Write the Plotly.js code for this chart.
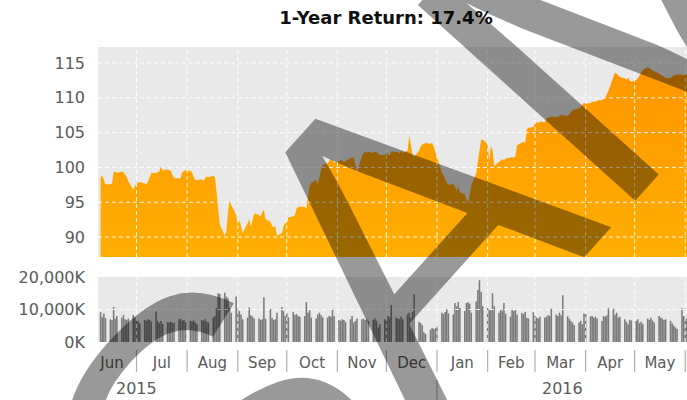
<!DOCTYPE html>
<html><head><meta charset="utf-8">
<script src="https://cdn.plot.ly/plotly-3.0.1.min.js"></script>
<style>html,body{margin:0;padding:0;background:#fff}#chart{width:687px;height:400px}</style>
</head><body><div id="chart"></div>
<script>
// Week starting dates (first week begins on Tuesday 9 Jun 2015)
const weekStarts = ['2015-06-09','2015-06-15','2015-06-22','2015-06-29','2015-07-06','2015-07-13','2015-07-20','2015-07-27',
 '2015-08-03','2015-08-10','2015-08-17','2015-08-24','2015-08-31','2015-09-07','2015-09-14','2015-09-21','2015-09-28',
 '2015-10-05','2015-10-12','2015-10-19','2015-10-26','2015-11-02','2015-11-09','2015-11-16','2015-11-23','2015-11-30',
 '2015-12-07','2015-12-14','2015-12-21','2015-12-28','2016-01-04','2016-01-11','2016-01-18','2016-01-25','2016-02-01',
 '2016-02-08','2016-02-15','2016-02-22','2016-02-29','2016-03-07','2016-03-14','2016-03-21','2016-03-28','2016-04-04',
 '2016-04-11','2016-04-18','2016-04-25','2016-05-02','2016-05-09','2016-05-16','2016-05-23','2016-05-30'];

// Daily closing price, one row per week
const priceByWeek = [
 [98.6,98.8,98.2,97.6],[97.6,97.7,99.3,99.4,99.2],[99.4,99.3,99.0,98.6,98.0],[96.8,97.3,97.8,97.8,97.9],
 [97.7,97.6,97.9,98.6,99.2],[99.2,99.3,99.4,100.2,99.6],[99.7,99.6,99.5,98.9,98.5],[98.4,98.5,99.3,99.5,99.6],
 [99.5,99.3,98.6,98.2,98.2],[98.3,98.1,98.5,98.7,98.6],[98.8,98.6,96.5,94.0,91.8],[90.2,90.8,93.6,95.3,94.6],
 [93.2,91.8,92.4,91.6,90.6],[92.0,92.6,91.5,92.4,93.4],[93.2,92.9,93.6,93.9,92.6],[92.2,91.6,91.4,91.6,90.2],
 [90.6,91.6,92.0,92.1,92.8],[93.0,93.2,94.1,94.3,94.4],[94.3,94.1,95.8,97.3,97.8],[98.2,97.6,98.6,99.6,100.4],
 [100.6,100.9,101.2,101.0,100.7],[100.8,101.1,101.0,100.7,100.9],[101.4,101.3,101.6,100.4,99.3],[101.6,102.0,102.3,102.1,102.2],
 [102.1,102.3,102.2,102.0,101.8],[101.8,102.0,101.9,101.7,102.3],[102.2,102.3,102.0,102.4,102.1],[102.4,104.5,103.3,101.8,101.5],
 [102.4,103.0,103.3,103.4,103.5],[103.4,103.5,103.0,102.2,101.5],[99.2,98.9,98.3,97.8,97.5],[97.6,97.2,96.6,97.3,96.4],
 [96.2,95.4,94.9,96.0,97.4],[99.2,100.8,102.4,103.9,104.0],[103.3,101.0,103.0,102.5,100.2],[100.8,101.0,101.2,101.0,101.3],
 [101.4,101.5,101.4,101.6,103.2],[103.6,103.7,103.5,105.5,105.7],[105.8,106.3,106.5,106.4,106.6],[106.5,107.0,107.2,107.1,107.3],
 [107.2,107.4,107.3,107.6,107.5],[107.4,107.6,107.9,108.2,108.3],[108.5,108.7,109.0,109.3,109.1],[109.3,109.4,109.5,109.4,109.6],
 [109.7,109.8,110.1,110.5,111.0],[113.0,113.6,113.5,113.2,113.0],[112.8,112.6,112.9,112.5,112.3],[112.6,112.8,113.2,113.6,114.0],
 [114.4,114.3,114.1,113.9,113.8],[113.5,113.3,113.2,113.0,112.8],[112.9,113.0,113.3,113.2,113.4],[113.3,113.2,113.4,113.3,113.5]];

// Daily volume in thousands, one row per week
const volumeByWeek = [
 [9200,7600,8800,7400],[7000,6800,10800,7200,8000],[7500,8300,7000,6800,7200],[8300,7600,6800,6500,5800],
 [6800,6500,7000,6800,6200],[9400,6400,5800,6500,5600],[6200,6000,6300,5800,5900],[7000,7200,6500,6800,6100],
 [6500,6300,6600,6000,5500],[6800,6500,7000,6200,6000],[7500,8000,10500,15000,14800],[15200,14000,13500,10500,9000],
 [14000,10000,9500,8500,7000],[7500,10600,8200,7800,7200],[7200,6800,7000,13800,7200],[10200,7500,6800,7000,9000],
 [10800,9500,8000,9000,7600],[9200,8300,8600,8000,7800],[8000,12300,9000,9800,7500],[7200,8500,9000,8200,7600],
 [7500,8000,7800,10200,8000],[6800,6500,7000,6800,6200],[7000,8000,6000,6500,7200],[7000,7200,6800,7000,6500],
 [6800,7200,6500,4500,5500],[7000,6800,8000,7500,11400],[7500,7200,7000,7800,7000],[8500,9000,7500,9200,14700],
 [6200,5800,5200,3000,2500],[3800,4300,4000,4200,5000],[9000,8600,9200,10000,8800],[8500,12000,11000,12300,10500],
 [9500,12000,12200,11800,9000],[12500,16000,19000,15500,11000],[10400,9800,10000,15000,11000],[9000,10000,9500,12000,8700],
 [7800,10200,9500,9800,8500],[9000,8600,9200,7500,7200],[9200,8000,7500,7200,7800],[7500,7800,8200,8000,10200],
 [8500,8000,9000,8200,14400],[7900,7200,6500,6000,5200],[6000,6500,5500,8800,8600],[7900,8000,7500,7800,7200],
 [6500,8000,7800,8200,10400],[10200,8500,9000,7500,7800],[7000,6200,5500,6800,6600],[6500,7000,5800,6200,5500],
 [7200,6800,7500,6600,6000],[8000,7500,7200,6800,7000],[6500,5800,5000,4500,4000],[10400,8000,7600,7200,6900]];

const monthStarts = ['2015-07-01','2015-08-01','2015-09-01','2015-10-01','2015-11-01','2015-12-01','2016-01-01',
 '2016-02-01','2016-03-01','2016-04-01','2016-05-01','2016-06-01'];
const priceTicks = [90,95,100,105,110,115];
const volumeTicks = [0,10000,20000];
const volumeTickText = ['0K','10,000K','20,000K'];
const yearLabels = ['2015','2016'];
const yearLabelDates = ['2015-07-01','2016-03-18'];
const yearBreak = '2016-01-01';
const titleText = '1-Year Return: 17.4%';

function addDays(iso, n){
  const d = new Date(iso + 'T00:00:00Z'); d.setUTCDate(d.getUTCDate()+n);
  return d.toISOString().slice(0,10);
}
const dates = [], prices = [], volumes = [];
weekStarts.forEach((ws,i)=>{
  priceByWeek[i].forEach((p,k)=>{ dates.push(addDays(ws,k)); prices.push(p); volumes.push(volumeByWeek[i][k]); });
});

const TOP = [0.288, 1], BOT = [0, 0.2203];
const gridLine = {color:'rgba(255,255,255,0.9)', width:1, dash:'4px,3px'};
const shapes = [];
monthStarts.forEach(m=>{
  shapes.push({type:'line', xref:'x', yref:'paper', x0:m, x1:m, y0:TOP[0], y1:TOP[1], line:gridLine, layer:'above'});
  shapes.push({type:'line', xref:'x', yref:'paper', x0:m, x1:m, y0:BOT[0], y1:BOT[1], line:gridLine, layer:'above'});
  shapes.push({type:'line', xref:'x', yref:'paper', x0:m, x1:m, y0:-0.027, y1:-0.102, line:{color:'#b0b0b0', width:1.2}});
});
priceTicks.forEach(t=>shapes.push({type:'line', xref:'paper', yref:'y', x0:0, x1:1, y0:t, y1:t, line:gridLine, layer:'above'}));
volumeTicks.slice(1,2).forEach(t=>shapes.push({type:'line', xref:'paper', yref:'y2', x0:0, x1:1, y0:t, y1:t, line:gridLine, layer:'above'}));
shapes.push({type:'line', xref:'x', yref:'paper', x0:yearBreak, x1:yearBreak, y0:-0.129, y1:-0.2, line:{color:'#b0b0b0', width:1.2}});

const annotations = yearLabels.map((t,i)=>({text:t, xref:'x', yref:'paper', x:yearLabelDates[i], y:-0.157, showarrow:false,
  xanchor:'center', yanchor:'middle', font:{family:'DejaVu Sans', size:16, color:'#5a5a5a'}}));
annotations.push({text:'SAMPLE', xref:'paper', yref:'paper', x:1.022, y:1.468, showarrow:false, xanchor:'center', yanchor:'middle',
  textangle:-48, font:{family:'Liberation Sans', size:425, color:'rgba(0,0,0,0.4)'}});

const traces = [
  {type:'scatter', x:dates, y:prices, mode:'none', fill:'tozeroy', xaxis:'x', yaxis:'y', hoverinfo:'skip',
   fillcolor:'#ffa500', fillgradient:{type:'vertical', start:87, stop:117, colorscale:[[0,'#ffae00'],[1,'#ff9400']]}},
  {type:'bar', x:dates, y:volumes, xaxis:'x', yaxis:'y2', marker:{color:'#7a7a7a', line:{width:0}}, hoverinfo:'skip'}
];

const layout = {
  width:687, height:400, paper_bgcolor:'#ffffff', plot_bgcolor:'#e9e9e9', showlegend:false, bargap:0.05,
  margin:{l:98, r:0, t:47, b:58},
  title:{text:titleText, x:0.489, xref:'paper', y:0.955, yref:'container', xanchor:'center', yanchor:'middle',
         font:{family:'DejaVu Sans', size:18, weight:'bold', color:'#111'}},
  xaxis:{type:'date', range:['2015-06-07 10:00','2016-06-02 02:00'], anchor:'y2', showgrid:false, zeroline:false, showline:false,
         ticks:'', dtick:'M1', tick0:'2015-06-01', tickformat:'%b', ticklabelmode:'period', ticklabelstandoff:10,
         tickfont:{family:'DejaVu Sans', size:15, color:'#5a5a5a'}},
  yaxis:{domain:TOP, range:[87.13,117.3], tickvals:priceTicks, showgrid:false, zeroline:false, ticks:'', ticklabelstandoff:12,
         tickfont:{family:'DejaVu Sans', size:16, color:'#5a5a5a'}},
  yaxis2:{domain:BOT, range:[0,20000], tickvals:volumeTicks, ticktext:volumeTickText, showgrid:false, zeroline:false, ticks:'',
         ticklabelstandoff:12, tickfont:{family:'DejaVu Sans', size:16, color:'#5a5a5a'}},
  shapes:shapes, annotations:annotations
};
Plotly.newPlot('chart', traces, layout, {staticPlot:true});
</script></body></html>
